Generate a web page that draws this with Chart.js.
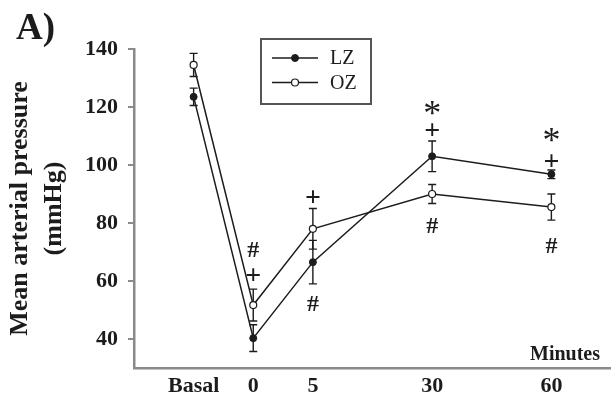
<!DOCTYPE html>
<html>
<head>
<meta charset="utf-8">
<script src="https://cdn.jsdelivr.net/npm/chart.js@4/dist/chart.umd.min.js"></script>
<style>
  html, body { margin: 0; padding: 0; background: #fff; }
  #wrap { width: 611px; height: 397px; }
</style>
</head>
<body>
<div id="wrap"><canvas id="chart" width="611" height="397"></canvas></div>
<script>
// time points: Basal, 0, 5, 30, 60 min (placed on a stretched axis like the figure)
const xPos = [-1, 0, 1, 3, 5];
const xLabels = ['Basal', '0', '5', '30', '60'];

const lzMean = [123.5, 40.3, 66.5, 103, 96.8];
const lzErr = [3, 4.6, 7.5, 5.3, 1.5];
const ozMean = [134.5, 51.7, 78, 90, 85.5];
const ozErr = [4, 5.5, 7, 3.3, 4.5];

// significance marks (x = time position, y = mmHg)
const markX = [0, 0, 1, 1, 3, 3, 3, 5, 5, 5];
const markY = [70.7, 62.1, 89, 52.4, 119.7, 112.1, 79.3, 110.3, 101.4, 72.1];
const markText = ['#', '+', '+', '#', '*', '+', '#', '*', '+', '#'];

const yTicks = [40, 60, 80, 100, 120, 140];

const SERIF = "'Liberation Serif', 'Times New Roman', serif";
const AXIS_GREY = '#8a8a8a';
const INK = '#1c1c1c';

function toPoints(means) {
  return xPos.map((x, i) => ({ x, y: means[i] }));
}

const errorBars = {
  id: 'errorBars',
  beforeDatasetsDraw(chart) {
    const { ctx, scales: { x, y } } = chart;
    const sets = [[lzMean, lzErr], [ozMean, ozErr]];
    ctx.save();
    ctx.strokeStyle = INK;
    ctx.lineWidth = 1.4;
    sets.forEach(([m, e]) => {
      xPos.forEach((xv, i) => {
        const px = x.getPixelForValue(xv);
        const top = y.getPixelForValue(m[i] + e[i]);
        const bot = y.getPixelForValue(m[i] - e[i]);
        ctx.beginPath();
        ctx.moveTo(px, top); ctx.lineTo(px, bot);
        ctx.moveTo(px - 4, top); ctx.lineTo(px + 4, top);
        ctx.moveTo(px - 4, bot); ctx.lineTo(px + 4, bot);
        ctx.stroke();
      });
    });
    ctx.restore();
  },
  afterDraw(chart) {
    const { ctx, chartArea, scales: { x, y } } = chart;
    ctx.save();
    ctx.fillStyle = INK;

    // significance symbols, ink box centred on the target
    markText.forEach((t, i) => {
      ctx.font = t === '*' ? `36px ${SERIF}` : t === '+' ? `bold 28px ${SERIF}` : `bold 24px ${SERIF}`;
      const m = ctx.measureText(t);
      const px = x.getPixelForValue(markX[i]);
      const py = y.getPixelForValue(markY[i]);
      const w = m.actualBoundingBoxRight + m.actualBoundingBoxLeft;
      const h = m.actualBoundingBoxAscent + m.actualBoundingBoxDescent;
      ctx.textBaseline = 'alphabetic';
      ctx.textAlign = 'left';
      ctx.fillText(t, px - w / 2 + m.actualBoundingBoxLeft, py - h / 2 + m.actualBoundingBoxAscent);
    });

    // panel letter
    ctx.font = `bold 37px ${SERIF}`;
    ctx.textAlign = 'left';
    ctx.textBaseline = 'alphabetic';
    ctx.fillText('A)', 16, 39);

    // axis unit
    ctx.font = `bold 20px ${SERIF}`;
    ctx.textAlign = 'right';
    ctx.fillText('Minutes', chartArea.right - 11, chartArea.bottom - 8);

    // legend box
    ctx.strokeStyle = '#555';
    ctx.lineWidth = 2;
    ctx.strokeRect(261, 39, 110, 65);
    chart.data.datasets.forEach((ds, i) => {
      const ly = 58 + i * 24.5;
      ctx.strokeStyle = INK;
      ctx.lineWidth = 1.4;
      ctx.beginPath();
      ctx.moveTo(272, ly); ctx.lineTo(318, ly);
      ctx.stroke();
      ctx.beginPath();
      ctx.arc(295, ly, ds.pointRadius, 0, Math.PI * 2);
      ctx.fillStyle = ds.pointBackgroundColor;
      ctx.fill();
      ctx.lineWidth = ds.pointBorderWidth;
      ctx.stroke();
      ctx.fillStyle = INK;
      ctx.font = `20px ${SERIF}`;
      ctx.textAlign = 'left';
      ctx.textBaseline = 'middle';
      ctx.fillText(ds.label, 330, ly + 1);
    });
    ctx.restore();
  },
};

new Chart(document.getElementById('chart'), {
  type: 'line',
  data: {
    datasets: [
      {
        label: 'LZ',
        data: toPoints(lzMean),
        borderColor: INK,
        borderWidth: 1.5,
        pointRadius: 3.5,
        pointBackgroundColor: INK,
        pointBorderColor: INK,
        pointBorderWidth: 1,
        tension: 0,
      },
      {
        label: 'OZ',
        data: toPoints(ozMean),
        borderColor: INK,
        borderWidth: 1.5,
        pointRadius: 3.5,
        pointBackgroundColor: '#fff',
        pointBorderColor: INK,
        pointBorderWidth: 1.2,
        tension: 0,
      },
    ],
  },
  options: {
    responsive: false,
    animation: false,
    layout: { autoPadding: false, padding: { top: 49, right: 0, bottom: 0, left: 0 } },
    plugins: { legend: { display: false }, tooltip: { enabled: false } },
    scales: {
      x: {
        type: 'linear',
        min: -2,
        max: 6,
        afterBuildTicks: (s) => { s.ticks = xPos.map((v) => ({ value: v })); },
        afterFit: (s) => { s.height = 29; s.paddingLeft = 0; s.paddingRight = 0; },
        ticks: {
          autoSkip: false,
          maxRotation: 0,
          padding: 5,
          color: INK,
          font: { family: SERIF, size: 22, weight: 'bold' },
          callback: (v) => xLabels[xPos.indexOf(v)],
        },
        grid: { display: false, drawTicks: false, tickLength: 0 },
        border: { display: true, color: AXIS_GREY, width: 2.5 },
      },
      y: {
        min: 30,
        max: 140,
        afterBuildTicks: (s) => { s.ticks = yTicks.map((v) => ({ value: v })); },
        afterFit: (s) => { s.width = 134; },
        ticks: {
          padding: 10,
          color: INK,
          font: { family: SERIF, size: 22, weight: 'bold' },
        },
        grid: { drawOnChartArea: false, tickLength: 6, color: AXIS_GREY, lineWidth: 2 },
        border: { display: true, color: AXIS_GREY, width: 2.5 },
        title: {
          display: true,
          text: ['Mean arterial pressure', '(mmHg)'],
          color: INK,
          font: { family: SERIF, size: 26, weight: 'bold', lineHeight: 1.32 },
          padding: { top: 3, bottom: 0 },
        },
      },
    },
  },
  plugins: [errorBars],
});
</script>
</body>
</html>
